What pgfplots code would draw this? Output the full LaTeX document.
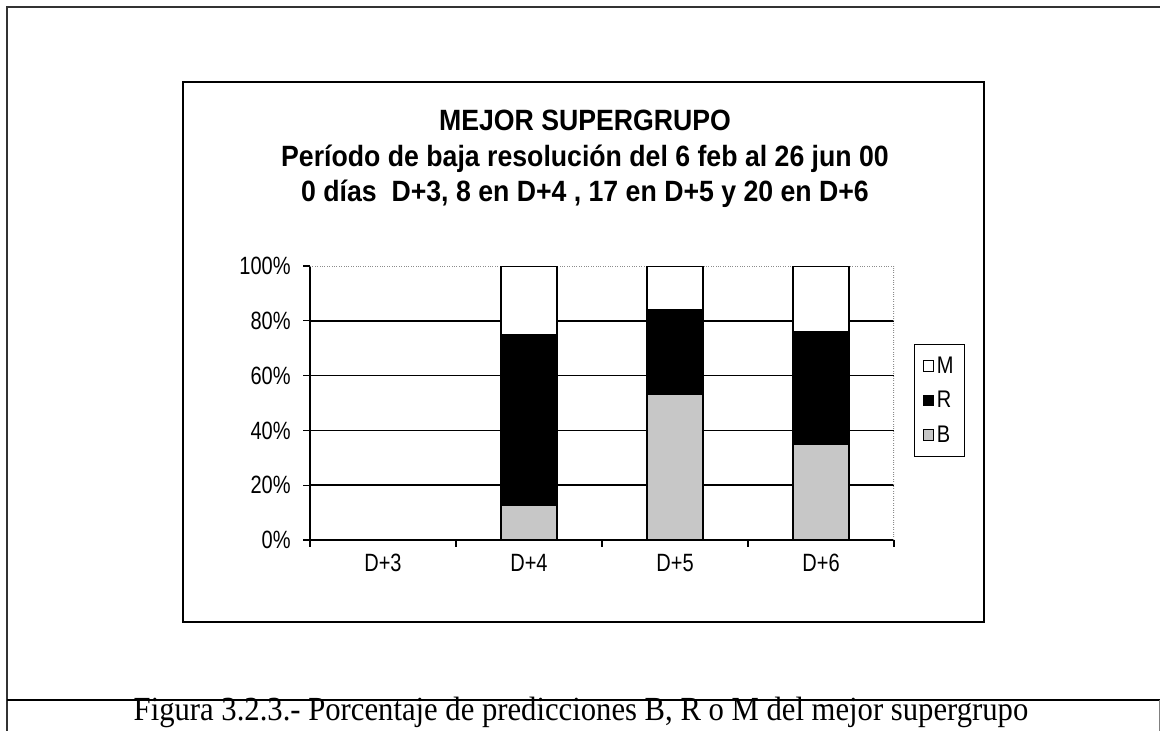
\documentclass[border=0pt]{standalone}
\usepackage{pgfplots}
\usepackage{pgfplotstable}
\pgfplotsset{compat=1.18}
\usepackage{fontspec}
\setmainfont{Liberation Sans}
\newfontfamily\capfont{Liberation Serif}

\pgfplotstableread{
x B R M
0 0 0 0
1 12.5 62.5 25
2 53 31 16
3 35 41 24
}\datatable

\begin{document}
\begin{tikzpicture}[x=0.75pt,y=-0.75pt]
\path[use as bounding box] (0,0) rectangle (1160,731);
\draw[black!80, line width=0.9pt] (1160,7) -- (7,7) -- (7,731);
\draw[black, line width=1pt] (7,700) -- (1160,700);
\draw[black!50, line width=0.5pt] (1159,700) -- (1159,731);
\draw[black, line width=1.4pt] (183,82) rectangle (984,622);
\node[align=center, font=\fontsize{20}{26.5}\selectfont\bfseries] at (585,159)
  {\scalebox{1}[1.1]{MEJOR SUPERGRUPO}\\\scalebox{1}[1.1]{Período de baja resolución del 6 feb al 26 jun 00}\\\scalebox{1}[1.1]{0 días\ \ D+3, 8 en D+4 , 17 en D+5 y 20 en D+6}};
\node[font=\capfont\fontsize{23}{26}\selectfont] at (581,712)
  {\scalebox{1}[1.1]{Figura 3.2.3.- Porcentaje de predicciones B, R o M del mejor supergrupo}};

\begin{axis}[
  at={(232.5pt,-405pt)}, anchor=south west,
  scale only axis, width=438pt, height=205.5pt,
  ybar stacked, bar width=42pt,
  xmin=-0.5, xmax=3.5, ymin=0, ymax=100,
  axis x line*=bottom, axis y line*=left,
  axis line style={black, line width=1.2pt, -},
  tick align=outside, major tick length=5pt,
  tick style={black, line width=1pt},
  xtick={-0.5,0.5,1.5,2.5,3.5}, xticklabels={},
  extra x ticks={0,1,2,3},
  extra x tick labels={\scalebox{1}[1.25]{D+3},\scalebox{1}[1.25]{D+4},\scalebox{1}[1.25]{D+5},\scalebox{1}[1.25]{D+6}},
  extra x tick style={major tick length=0pt, grid=none},
  ytick={0,20,40,60,80,100}, yticklabel={\scalebox{1}[1.25]{\pgfmathprintnumber{\tick}\%}},
  extra y ticks={20,40,60,80}, extra y tick labels={},
  extra y tick style={grid=major, major tick length=0pt},
  major grid style={black, line width=1.2pt},
  tick label style={font=\fontsize{15}{18}\selectfont},
  /pgf/number format/assume math mode=true,
  xticklabel style={yshift=-7pt, text height=13pt, text depth=1pt},
  yticklabel style={xshift=-6pt},
  reverse legend,
  legend style={at={(1.034,0.509)}, anchor=west, draw=black, line width=1pt,
    font=\fontsize{15}{17}\selectfont, row sep=8pt, inner xsep=6pt, inner ysep=7pt},
  legend cell align=left,
  legend image code/.code={\draw[#1, line width=0.8pt] (0pt,-4pt) rectangle (8pt,4pt);},
]
\addplot[fill=black!22, draw=black, line width=1pt] table[x=x,y=B]{\datatable};
\addlegendentry{\scalebox{1}[1.2]{B}}
\addplot[fill=black, draw=black, line width=1pt] table[x=x,y=R]{\datatable};
\addlegendentry{\scalebox{1}[1.2]{R}}
\addplot[fill=white, draw=black, line width=1pt] table[x=x,y=M]{\datatable};
\addlegendentry{\scalebox{1}[1.2]{M}}
\draw[black!45, densely dotted, line width=0.8pt] (rel axis cs:0,1) -- (rel axis cs:1,1) -- (rel axis cs:1,0);
\end{axis}
\end{tikzpicture}
\end{document}
